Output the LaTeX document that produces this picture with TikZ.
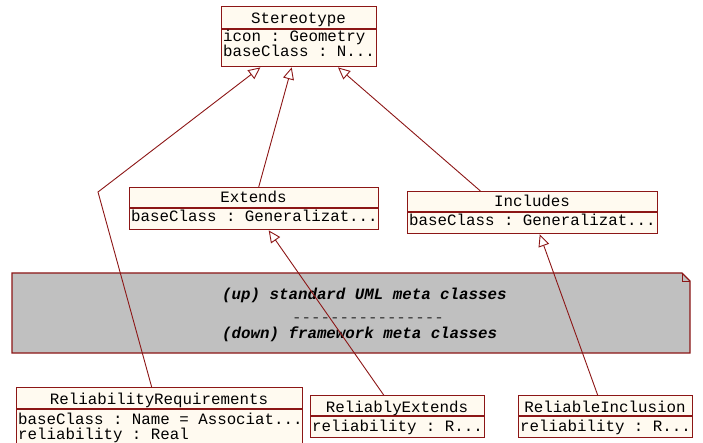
\documentclass[tikz,border=0pt]{standalone}
\usepackage{fontspec}
\setmonofont{Liberation Mono}
\usetikzlibrary{arrows.meta,calc}
\definecolor{umlline}{RGB}{140,22,22}
\definecolor{umlfill}{RGB}{255,250,240}
\definecolor{notefill}{RGB}{192,192,192}
\tikzset{
  classbox/.style={draw=umlline, line width=1.4pt, fill=umlfill, inner sep=0pt, anchor=north west},
  sepline/.style={draw=umlline, line width=1.2pt},
  umltext/.style={font=\ttfamily\fontsize{15.8}{15.8}\selectfont, inner sep=0pt},
  notetext/.style={font=\ttfamily\bfseries\itshape\fontsize{15.8}{15.8}\selectfont, inner sep=0pt, anchor=base west},
  gen/.style={draw=umlline, line width=0.9pt, -{Triangle[open, length=12pt, width=11pt, fill=white]}},
}
\begin{document}
\begin{tikzpicture}[x=1pt, y=-1pt]
\useasboundingbox (0,0) rectangle (703,443);

% note separating standard and framework classes
\draw[draw=umlline, line width=1.2pt, fill=notefill]
  (12,273) -- (682,273) -- (690,281) -- (690,353) -- (12,353) -- cycle;
\draw[draw=umlline, line width=1pt] (682,273) -- (682,281) -- (690,281);
\node[notetext] (n1) at (222,299) {(up) standard UML meta classes};
\node[umltext, anchor=base west, text=black!80] (n2) at (292,322) {----------------};
\node[notetext] (n3) at (222,338) {(down) framework meta classes};

% class boxes
\node[classbox, minimum width=155pt, minimum height=60pt] (stereo) at (221,6) {};
\draw[sepline] (221,29) -- (376,29);
\node[umltext, anchor=base] at (298.5,24) {Stereotype};
\node[umltext, anchor=base west] at (223,42) {icon : Geometry};
\node[umltext, anchor=base west] at (223,57) {baseClass : N...};

\node[classbox, minimum width=249pt, minimum height=42pt] (ext) at (129,187) {};
\draw[sepline] (129,208) -- (378,208);
\node[umltext, anchor=base] at (253.5,203) {Extends};
\node[umltext, anchor=base west] at (131,222) {baseClass : Generalizat...};

\node[classbox, minimum width=250pt, minimum height=42pt] (inc) at (407,191) {};
\draw[sepline] (407,212) -- (657,212);
\node[umltext, anchor=base] at (532,207) {Includes};
\node[umltext, anchor=base west] at (409,226) {baseClass : Generalizat...};

\node[classbox, minimum width=286pt, minimum height=60pt] (rr) at (16,387) {};
\draw[sepline] (16,409) -- (302,409);
\node[umltext, anchor=base] at (159,404) {ReliabilityRequirements};
\node[umltext, anchor=base west] at (18,424) {baseClass : Name = Associat...};
\node[umltext, anchor=base west] at (18,439) {reliability : Real};

\node[classbox, minimum width=174pt, minimum height=42pt] (rext) at (310,395) {};
\draw[sepline] (310,416) -- (484,416);
\node[umltext, anchor=base] at (397,412) {ReliablyExtends};
\node[umltext, anchor=base west] at (312,431) {reliability : R...};

\node[classbox, minimum width=174pt, minimum height=42pt] (rinc) at (518,395) {};
\draw[sepline] (518,416) -- (692,416);
\node[umltext, anchor=base] at (605,412) {ReliableInclusion};
\node[umltext, anchor=base west] at (520,431) {reliability : R...};

% generalisation connectors
\coordinate (bend) at (98,192);
\draw[gen] ($(rr.north west)!0.472!(rr.north east)$) -- (bend)
  -- ($(stereo.south west)!0.252!(stereo.south east)$);
\draw[gen] ($(ext.north west)!0.518!(ext.north east)$)
  -- ($(stereo.south west)!0.452!(stereo.south east)$);
\draw[gen] ($(inc.north west)!0.292!(inc.north east)$)
  -- ($(stereo.south west)!0.748!(stereo.south east)$);
\draw[gen] ($(rext.north west)!0.42!(rext.north east)$)
  -- ($(ext.south west)!0.558!(ext.south east)$);
\draw[gen] ($(rinc.north west)!0.454!(rinc.north east)$)
  -- ($(inc.south west)!0.528!(inc.south east)$);
\end{tikzpicture}
\end{document}
